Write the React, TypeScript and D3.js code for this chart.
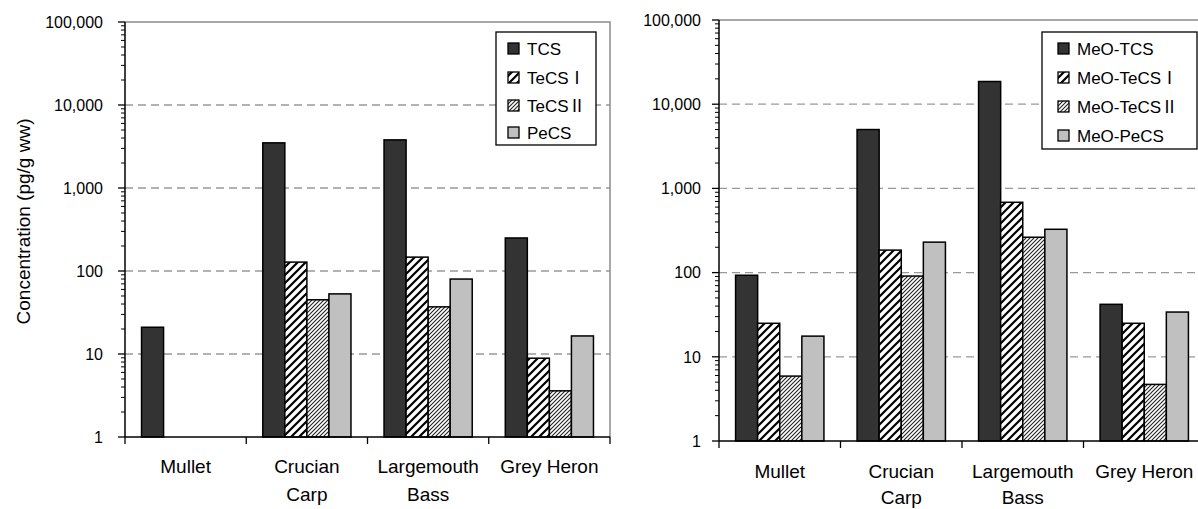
import React from 'react';
import * as d3 from 'd3';

const categories = ['Mullet', 'Crucian Carp', 'Largemouth Bass', 'Grey Heron'];
const categoryLines = [['Mullet'], ['Crucian', 'Carp'], ['Largemouth', 'Bass'], ['Grey Heron']];

const leftSeries = ['TCS', 'TeCSⅠ', 'TeCSⅡ', 'PeCS'];
const leftTCS: (number | null)[] = [21, 3500, 3800, 250];
const leftTeCS1: (number | null)[] = [null, 128, 147, 8.9];
const leftTeCS2: (number | null)[] = [null, 45, 37, 3.6];
const leftPeCS: (number | null)[] = [null, 53, 80, 16.5];

const rightSeries = ['MeO-TCS', 'MeO-TeCSⅠ', 'MeO-TeCSⅡ', 'MeO-PeCS'];
const rightTCS: (number | null)[] = [93, 5000, 18600, 42];
const rightTeCS1: (number | null)[] = [25, 185, 684, 25];
const rightTeCS2: (number | null)[] = [5.9, 91, 263, 4.7];
const rightPeCS: (number | null)[] = [17.6, 230, 327, 34];

const yTicks = [1, 10, 100, 1000, 10000, 100000];
const yTickLabels = ['1', '10', '100', '1,000', '10,000', '100,000'];
const yTitle = 'Concentration (pg/g ww)';

const FONT = '"Liberation Sans", Arial, "Noto Sans CJK JP", sans-serif';
const fills = ['#333333', 'url(#hatchWide)', 'url(#hatchFine)', '#c0c0c0'];

type PanelProps = {
  x0: number; x1: number; yTop: number; yBottom: number;
  series: string[]; values: (number | null)[][];
  legend: { x: number; y: number; w: number; h: number; sq: number; tx: number; rows: number[] };
  labelY: number[]; tickGap: number; title?: boolean;
};

function Panel(p: PanelProps) {
  const y = d3.scaleLog().domain([1, 100000]).range([p.yBottom, p.yTop]);
  const x = d3.scaleBand<string>().domain(categories).range([p.x0, p.x1]).paddingInner(0).paddingOuter(0);
  const xs = d3.scaleBand<string>().domain(p.series).range([0, x.bandwidth()]).paddingInner(0).paddingOuter(0.75);
  const minor: number[] = [];
  for (let d = 0; d < 5; d++) for (let k = 2; k <= 9; k++) minor.push(k * Math.pow(10, d));
  const bounds = categories.map((c) => x(c) as number).concat([p.x1]);
  return (
    <g>
      {yTicks.slice(1, -1).map((t) => (
        <line key={'g' + t} x1={p.x0} x2={p.x1} y1={y(t)} y2={y(t)} stroke="#999" strokeWidth={1.3} strokeDasharray="8,5" />
      ))}
      <path d={`M${p.x0},${p.yTop} L${p.x1},${p.yTop} L${p.x1},${p.yBottom}`} fill="none" stroke="#8c8c8c" strokeWidth={1.5} />
      {p.series.map((s, si) =>
        categories.map((c, ci) => {
          const v = p.values[si][ci];
          if (v == null) return null;
          const bx = (x(c) as number) + (xs(s) as number);
          return (
            <rect key={s + c} x={bx} y={y(v)} width={xs.bandwidth()} height={p.yBottom - y(v)}
              fill={fills[si]} stroke="#000" strokeWidth={1.5} />
          );
        })
      )}
      <line x1={p.x0} x2={p.x0} y1={p.yTop} y2={p.yBottom} stroke="#000" strokeWidth={1.5} />
      {minor.map((t) => (
        <line key={'m' + t} x1={p.x0 - 4} x2={p.x0} y1={y(t)} y2={y(t)} stroke="#000" strokeWidth={1} />
      ))}
      {yTicks.map((t, i) => (
        <g key={'t' + t}>
          <line x1={p.x0 - 7} x2={p.x0} y1={y(t)} y2={y(t)} stroke="#000" strokeWidth={1.3} />
          <text x={p.x0 - p.tickGap} y={y(t)} dy="0.36em" textAnchor="end" fontSize={16} fontFamily={FONT} fill="#000">
            {yTickLabels[i]}
          </text>
        </g>
      ))}
      <line x1={p.x0} x2={p.x1} y1={p.yBottom} y2={p.yBottom} stroke="#000" strokeWidth={1.5} />
      {bounds.map((b, i) => (
        <line key={'b' + i} x1={b} x2={b} y1={p.yBottom} y2={p.yBottom + 7} stroke="#000" strokeWidth={1.3} />
      ))}
      {categories.map((c, ci) => (
        <text key={'c' + c} textAnchor="middle" fontSize={19} fontFamily={FONT} fill="#000">
          {categoryLines[ci].map((ln, li) => (
            <tspan key={li} x={(x(c) as number) + x.bandwidth() / 2} y={p.labelY[li]}>{ln}</tspan>
          ))}
        </text>
      ))}
      {p.title && (
        <text transform={`translate(30,${(p.yTop + p.yBottom) / 2 - 8}) rotate(-90)`} textAnchor="middle"
          fontSize={19} fontFamily={FONT} fill="#000">{yTitle}</text>
      )}
      <rect x={p.legend.x} y={p.legend.y} width={p.legend.w} height={p.legend.h} fill="#fff" stroke="#000" strokeWidth={1.3} />
      {p.series.map((s, si) => (
        <g key={'l' + s}>
          <rect x={p.legend.x + p.legend.sq} y={p.legend.rows[si] - 6} width={11} height={11} fill={fills[si]} stroke="#000" strokeWidth={1.3} />
          <text x={p.legend.x + p.legend.tx} y={p.legend.rows[si]} dy="0.36em" fontSize={17} fontFamily={FONT} fill="#000">{s}</text>
        </g>
      ))}
    </g>
  );
}

export default function App() {
  return (
    <svg width={1198} height={509} style={{ position: 'absolute', left: 0, top: 0, background: '#fff' }}>
      <defs>
        <pattern id="hatchWide" patternUnits="userSpaceOnUse" width={8} height={8}>
          <rect width={8} height={8} fill="#fff" />
          <path d="M0,8 L8,0 M-2,2 L2,-2 M6,10 L10,6" stroke="#000" strokeWidth={2.2} />
        </pattern>
        <pattern id="hatchFine" patternUnits="userSpaceOnUse" width={4} height={4}>
          <rect width={4} height={4} fill="#fff" />
          <path d="M0,4 L4,0 M-1,1 L1,-1 M3,5 L5,3" stroke="#222" strokeWidth={1.1} />
        </pattern>
      </defs>
      <rect width={1198} height={509} fill="#fff" />
      <Panel x0={125} x1={610} yTop={22} yBottom={437}
        series={leftSeries} values={[leftTCS, leftTeCS1, leftTeCS2, leftPeCS]}
        legend={{ x: 496, y: 32, w: 100, h: 113, sq: 12, tx: 31, rows: [49, 78, 106, 133] }}
        labelY={[473, 501]} tickGap={22} title />
      <Panel x0={719} x1={1205} yTop={20} yBottom={441}
        series={rightSeries} values={[rightTCS, rightTeCS1, rightTeCS2, rightPeCS]}
        legend={{ x: 1042, y: 32, w: 155, h: 117, sq: 16, tx: 35, rows: [49, 78, 107, 136] }}
        labelY={[478, 504]} tickGap={18} />
    </svg>
  );
}
